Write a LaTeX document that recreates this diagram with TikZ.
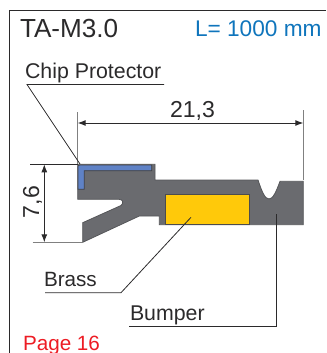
\documentclass[tikz,border=0pt]{standalone}
\usepackage{fontspec}
\setmainfont{Liberation Sans}
\usetikzlibrary{arrows.meta}
\definecolor{ProfileGrey}{HTML}{6A6B6F}
\definecolor{ChipBlue}{HTML}{5F82C6}
\definecolor{BrassYellow}{HTML}{FFC90A}
\definecolor{LengthBlue}{HTML}{0F75BC}
\definecolor{PageRed}{HTML}{ED1C24}
\definecolor{InkBlack}{HTML}{2B2A2B}
\tikzset{
  partlabel/.style={anchor=base west,inner sep=0pt,outer sep=0pt,text=InkBlack,font=\fontsize{16}{16}\selectfont},
  dimlabel/.style={inner sep=0pt,text=InkBlack,font=\fontsize{17.3}{17.3}\selectfont},
  leader/.style={draw=InkBlack,line width=0.6pt},
  extline/.style={draw=gray,line width=0.9pt},
  dimline/.style={draw=InkBlack,line width=0.7pt,{Latex[length=6pt,width=4.5pt]}-{Latex[length=6pt,width=4.5pt]}}
}
\begin{document}
\begin{tikzpicture}[x=0.75pt,y=-0.75pt]
  \useasboundingbox (0,0) rectangle (326,353);
  \draw[InkBlack,line width=0.8pt] (326,10.5) -- (9.5,10.5) -- (9.5,353);

  \node[partlabel,font=\fontsize{19.6}{19.6}\selectfont] (title) at (20,38) {TA-M3.0};
  \node[partlabel,text=LengthBlue,font=\fontsize{17}{17}\selectfont] (length) at (195,37) {L= 1000 mm};
  \node[partlabel,text=PageRed,font=\fontsize{15.5}{15.5}\selectfont] (page) at (23,350) {Page 16};

  % profile
  \draw[fill=ProfileGrey,draw=ProfileGrey!80!black,line width=0.6pt]
    (77.7,164.3) -- (155,164.3) -- (155,180) -- (258,180)
    .. controls (262,192) and (265,199) .. (269,199)
    .. controls (273,199) and (276,192) .. (280,181.3)
    -- (303.3,181.3) -- (303.3,224.7) -- (159.3,224.7) -- (159.3,216) -- (139.3,216)
    -- (82.7,242.3) -- (82.7,222.7) -- (121,205.5)
    .. controls (124,203) and (123,199.3) .. (119,199.3)
    -- (77.7,199.3) -- cycle;
  \draw[fill=ChipBlue,draw=ProfileGrey!60!black,line width=0.5pt]
    (80,165) -- (151.7,165) -- (151.7,170.7) -- (84.3,170.7) -- (84.3,189.3) -- (78,189.3) -- (78,167) .. controls (78,165.5) .. (80,165) -- cycle;
  \draw[fill=BrassYellow,draw=black!70,line width=0.6pt] (165.3,194.3) rectangle (249.7,224.7);

  % dimensions
  \coordinate (widthtopl) at (77.7,112);
  \coordinate (widthbotl) at (77.7,164.3);
  \coordinate (widthtopr) at (303.3,110);
  \coordinate (widthbotr) at (303.3,180);
  \coordinate (widthl) at (77.7,123);
  \coordinate (widthr) at (303.3,123);
  \coordinate (heighttopl) at (30,164.3);
  \coordinate (heighttopr) at (78,164.3);
  \coordinate (heightbotl) at (32.7,242.3);
  \coordinate (heightbotr) at (83,242.3);
  \coordinate (heightt) at (44.3,164.3);
  \coordinate (heightb) at (44.3,242.3);
  \draw[extline] (widthtopl) -- (widthbotl);
  \draw[extline] (widthtopr) -- (widthbotr);
  \draw[extline] (heightbotl) -- (heightbotr);
  \draw[leader] (heighttopl) -- (heighttopr);
  \draw[dimline] (widthl) -- (widthr);
  \draw[dimline] (heightt) -- (heightb);
  \node[dimlabel,anchor=base] (width) at (192.5,117) {21,3};
  \node[dimlabel,anchor=base,rotate=90] (height) at (39,202) {7,6};

  % labels
  \node[partlabel] (chip) at (25,79) {Chip Protector};
  \node[partlabel,font=\fontsize{15.5}{15.5}\selectfont] (brass) at (44,286) {Brass};
  \node[partlabel] (bumper) at (130,320) {Bumper};
  \coordinate (chipl) at (27,84.5);
  \coordinate (chipr) at (164,84.5);
  \coordinate (chiptip) at (80,164);
  \coordinate (brassl) at (45,292.7);
  \coordinate (brassr) at (121,292.7);
  \coordinate (brasstip) at (191,217.3);
  \coordinate (bumperl) at (129,326);
  \coordinate (bumperr) at (276.5,326);
  \coordinate (bumpertip) at (276.5,214);
  \draw[leader] (chipr) -- (chipl) -- (chiptip);
  \draw[leader] (brassl) -- (brassr) -- (brasstip);
  \draw[leader] (bumperl) -- (bumperr) -- (bumpertip);
\end{tikzpicture}
\end{document}
